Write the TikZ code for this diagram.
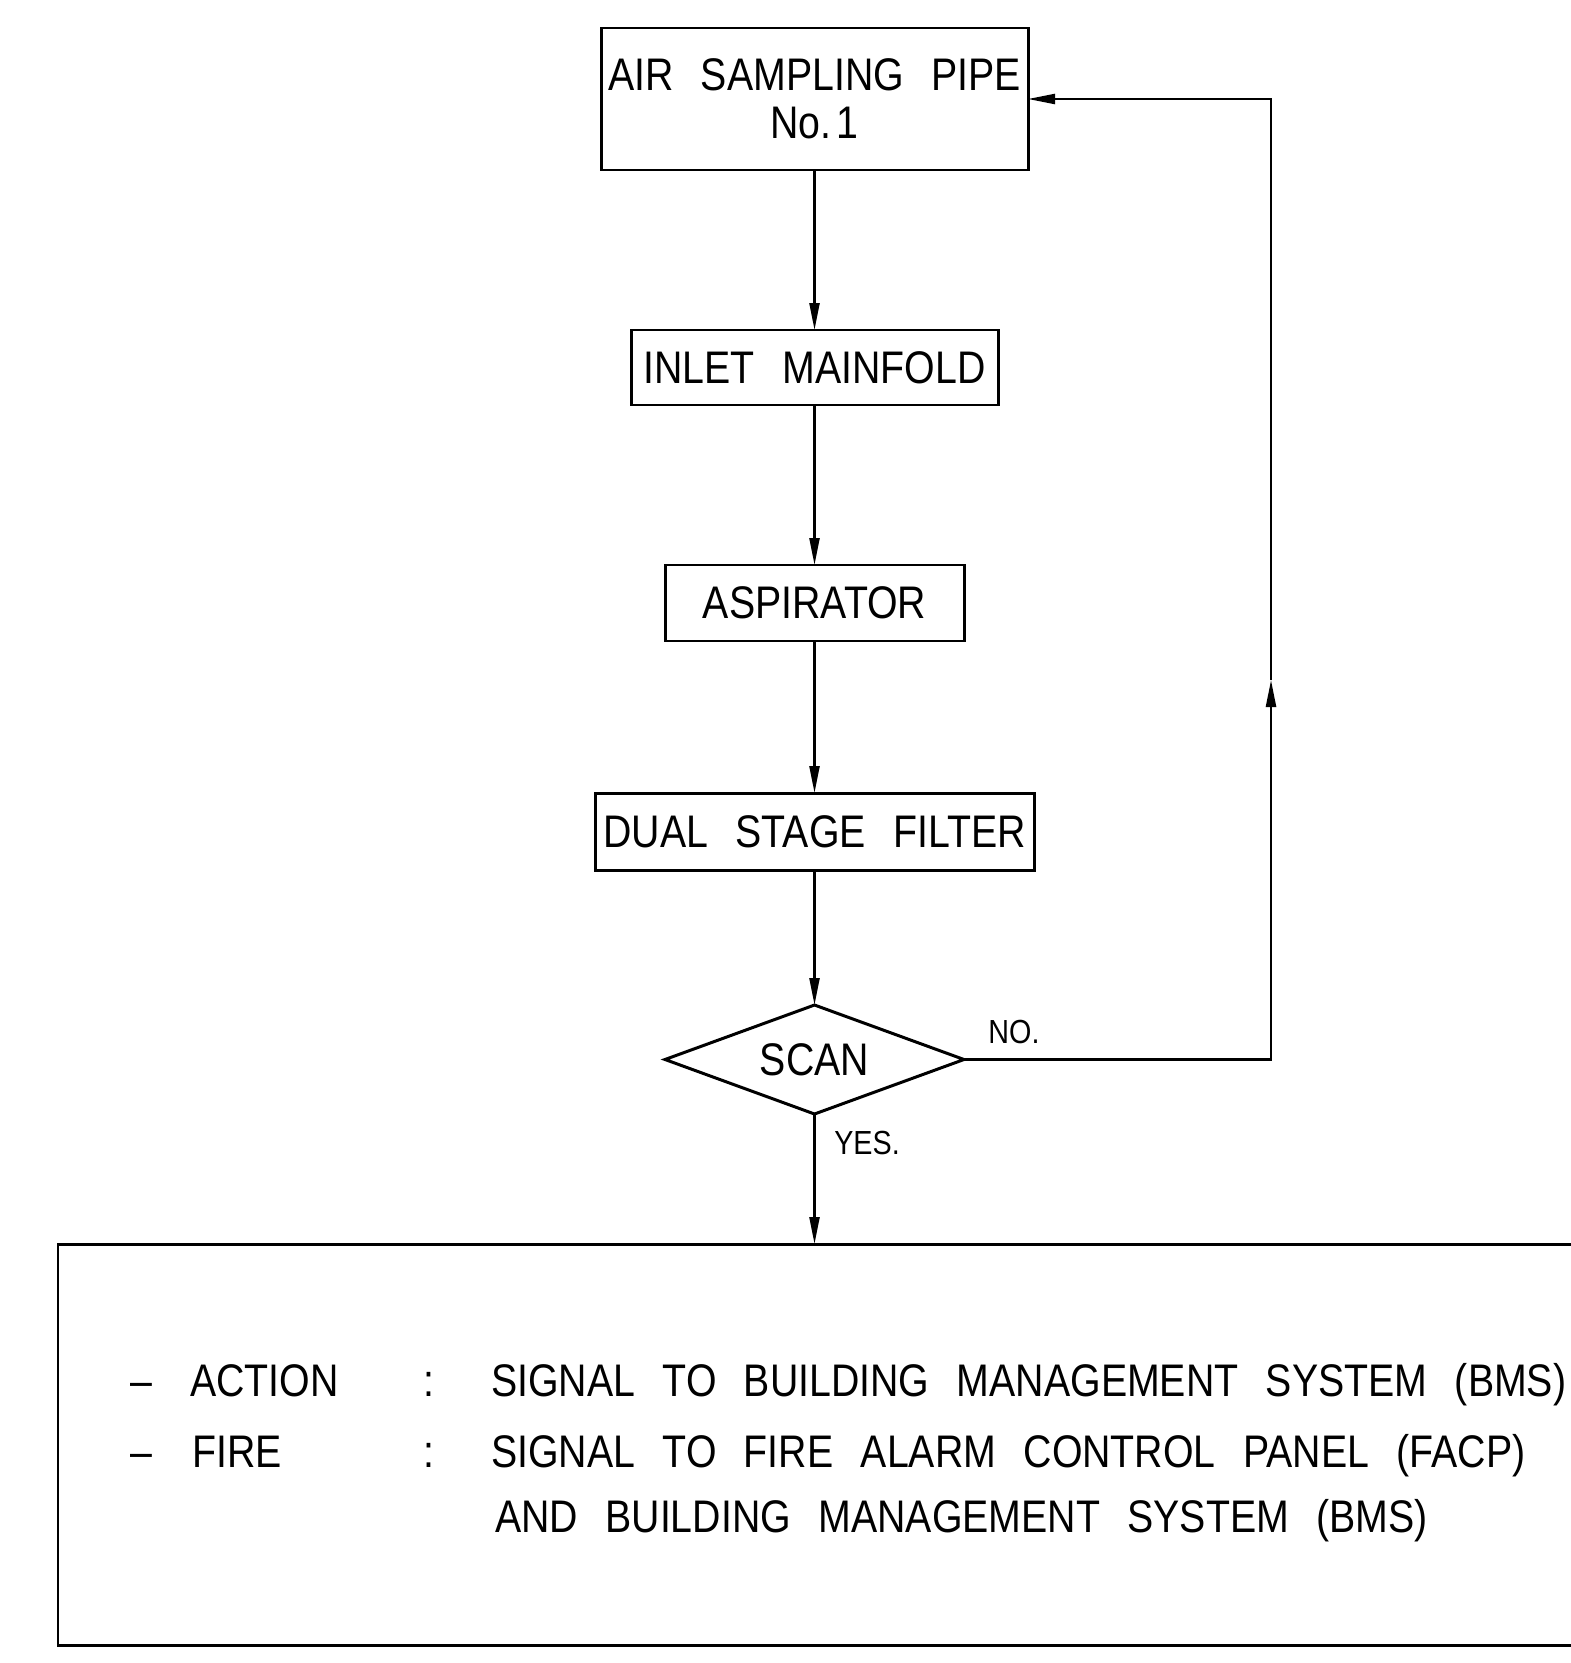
\documentclass[tikz,border=0pt]{standalone}
\usepackage{fontspec}
\setmainfont[FakeStretch=0.86]{Liberation Sans}
\usetikzlibrary{arrows.meta,shapes.geometric}
\newcommand{\boxfont}{\fontsize{13}{13.6}\selectfont\spaceskip=0.6em\relax}
\newcommand{\tagfont}{\fontsize{9.5}{10}\selectfont}

\begin{document}
\begin{tikzpicture}[>={Triangle[length=2.7mm,width=1mm]},line width=0.65pt,node distance=2.3cm,
  flow node/.style={rectangle,draw,line width=0.85pt,inner sep=0pt,outer sep=0pt,font=\boxfont,align=center},
  scan node/.style={diamond,draw,line width=0.85pt,inner sep=0pt,outer sep=0pt,aspect=2.74,minimum width=2.99cm,minimum height=1.09cm,font=\boxfont},
  note text/.style={inner sep=0pt,anchor=base west,font=\boxfont},
  tag text/.style={inner sep=0pt,font=\tagfont}]
            \useasboundingbox (0,0) rectangle (15.71,-16.63);

            \node[flow node,minimum width=4.27cm,minimum height=1.42cm] (pipe) at (8.145,-0.99) {AIR SAMPLING PIPE\\No.\kern0.12em 1};
            \node[flow node,minimum width=3.67cm,minimum height=0.75cm] (inlet) [below of = pipe,node distance=2.685cm] {INLET MAINFOLD};
            \node[flow node,minimum width=2.99cm,minimum height=0.76cm] (aspirator) [below of = inlet,node distance=2.355cm] {ASPIRATOR};
            \node[flow node,minimum width=4.39cm,minimum height=0.77cm] (filter) [below of = aspirator,node distance=2.285cm] {DUAL STAGE FILTER};
            \node[scan node] (scan) [below of = filter,node distance=2.28cm] {SCAN};

            % result panel, runs off the right edge
            \node[draw,line width=0.85pt,minimum width=16.2cm,minimum height=4.01cm,inner sep=0pt,outer sep=0pt,anchor=north west] (panel) at (0.58,-12.44) {};

            \node[note text] (dash1) at (1.29,-13.96) {--};
            \node[note text] (action) at (1.89,-13.96) {ACTION};
            \node[note text] (colon1) at (4.22,-13.96) {:};
            \node[note text] (bms) at (4.9,-13.96) {SIGNAL TO BUILDING MANAGEMENT SYSTEM (BMS)};
            \node[note text] (dash2) at (1.29,-14.67) {--};
            \node[note text] (fire) at (1.91,-14.67) {FIRE};
            \node[note text] (colon2) at (4.22,-14.67) {:};
            \node[note text] (facp) at (4.9,-14.67) {SIGNAL TO FIRE ALARM CONTROL PANEL (FACP)};
            \node[note text] (andbms) at (4.94,-15.32) {AND BUILDING MANAGEMENT SYSTEM (BMS)};

            \path[->]
                (pipe) edge (inlet)
                (inlet) edge (aspirator)
                (aspirator) edge (filter)
                (filter) edge (scan)
            ;
            \coordinate (drop) at (scan.south |- panel.north);
            \draw[->] (scan.south) -- (drop);
            \coordinate (loop) at (12.71,-6.80);
            \draw[->] (scan.east) -| (loop);
            \draw[->] (loop) |- (pipe.east);

            \node[tag text] (no) at (10.14,-10.32) {NO.};
            \node[tag text] (yes) at (8.67,-11.43) {YES.};
\end{tikzpicture}
\end{document}
